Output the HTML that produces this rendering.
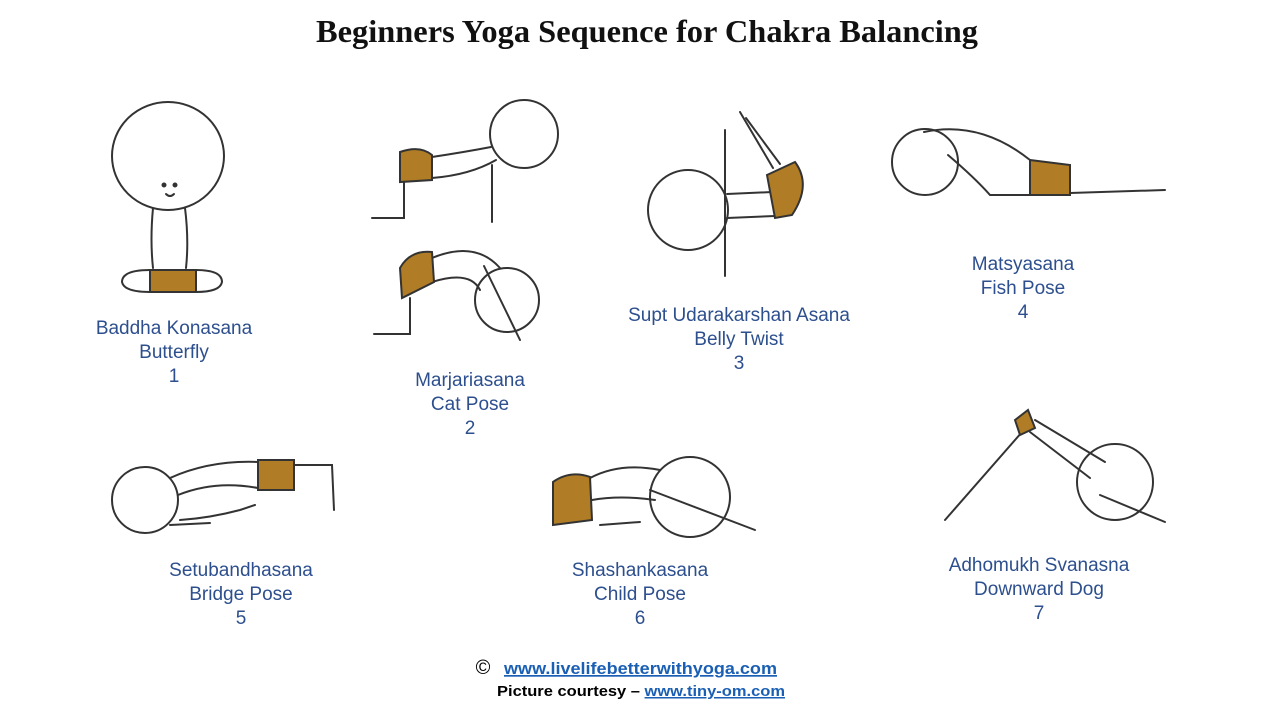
<!DOCTYPE html>
<html><head><meta charset="utf-8"><style>
body{margin:0;background:#fff;width:1280px;height:720px;overflow:hidden;font-family:"Liberation Sans",sans-serif}
</style></head><body>
<svg width="1280" height="720" xmlns="http://www.w3.org/2000/svg">
<text x="647" y="42" text-anchor="middle" font-family="Liberation Serif" font-weight="bold" font-size="32" fill="#111" textLength="662" lengthAdjust="spacingAndGlyphs">Beginners Yoga Sequence for Chakra Balancing</text>
<g fill="none" stroke="#333" stroke-width="2" stroke-linecap="round">
<!-- 1 -->
<ellipse cx="168" cy="156" rx="56" ry="54"/>
<path d="M153 208 Q150 240 153 268 M185 208 Q189 240 186 268"/>
<path d="M150 270 Q122 270 122 282 Q124 292 150 292 M196 270 Q222 270 222 282 Q220 292 196 292"/>
<rect x="150" y="270" width="46" height="22" fill="#b07d26" stroke="#333"/>
<circle cx="164" cy="185" r="1.5" fill="#333"/><circle cx="175" cy="185" r="1.5" fill="#333"/>
<path d="M166 194 Q170 198 174 194"/>
<!-- 2a -->
<circle cx="524" cy="134" r="34"/>
<path d="M432 157 Q465 152 491 147 M432 178 Q470 175 496 160"/>
<path d="M400 152 Q420 145 432 155 L432 180 L400 182 Z" fill="#b07d26"/>
<path d="M492 165 L492 222 M404 182 L404 218 L372 218"/>
<!-- 2b -->
<circle cx="507" cy="300" r="32"/>
<path d="M432 258 Q475 240 500 268 M432 282 Q470 270 480 290"/>
<path d="M400 268 Q410 250 432 252 L434 282 L402 298 Z" fill="#b07d26"/>
<path d="M410 298 L410 334 L374 334 M484 266 L520 340"/>
<!-- 3 -->
<circle cx="688" cy="210" r="40"/>
<path d="M725 130 L725 276"/>
<path d="M727 194 L772 192 M727 218 L775 216"/>
<path d="M767 175 L795 162 Q812 185 792 215 L775 218 Z" fill="#b07d26"/>
<path d="M773 168 L740 112 M780 164 L746 118"/>
<!-- 4 -->
<circle cx="925" cy="162" r="33"/>
<path d="M924 132 Q980 120 1030 160 M948 155 Q975 178 990 195 L1030 195"/>
<path d="M1030 160 L1070 165 L1070 195 L1030 195 Z" fill="#b07d26"/>
<path d="M1070 193 L1165 190"/>
<!-- 5 -->
<circle cx="145" cy="500" r="33"/>
<path d="M170 478 Q210 460 258 462 M178 495 Q215 480 258 488 M180 520 Q210 518 240 510 L255 505"/>
<rect x="258" y="460" width="36" height="30" fill="#b07d26"/>
<path d="M294 465 L332 465 L334 510 M170 525 L210 523"/>
<!-- 6 -->
<circle cx="690" cy="497" r="40"/>
<path d="M590 478 Q620 462 660 470 M592 500 Q620 495 655 500 M600 525 L640 522 M650 490 L755 530"/>
<path d="M553 482 Q570 470 590 477 L592 520 L553 525 Z" fill="#b07d26"/>
<!-- 7 -->
<circle cx="1115" cy="482" r="38"/>
<path d="M1022 432 L945 520 M1035 420 L1105 462 M1030 432 L1090 478 M1100 495 L1165 522"/>
<path d="M1015 420 L1028 410 L1035 428 L1020 435 Z" fill="#b07d26"/>
</g>
<g font-size="19" fill="#2d4f8e" text-anchor="middle">
<text x="174" y="334">Baddha Konasana</text><text x="174" y="358">Butterfly</text><text x="174" y="382">1</text>
<text x="470" y="386">Marjariasana</text><text x="470" y="410">Cat Pose</text><text x="470" y="434">2</text>
<text x="739" y="321">Supt Udarakarshan Asana</text><text x="739" y="345">Belly Twist</text><text x="739" y="369">3</text>
<text x="1023" y="270">Matsyasana</text><text x="1023" y="294">Fish Pose</text><text x="1023" y="318">4</text>
<text x="241" y="576">Setubandhasana</text><text x="241" y="600">Bridge Pose</text><text x="241" y="624">5</text>
<text x="640" y="576">Shashankasana</text><text x="640" y="600">Child Pose</text><text x="640" y="624">6</text>
<text x="1039" y="571">Adhomukh Svanasna</text><text x="1039" y="595">Downward Dog</text><text x="1039" y="619">7</text>
</g>
<text x="483" y="674" font-size="20" fill="#000" text-anchor="middle">©</text>
<text x="504" y="674" font-size="17" font-weight="bold" fill="#1a5fb4" text-decoration="underline" textLength="273" lengthAdjust="spacingAndGlyphs">www.livelifebetterwithyoga.com</text>
<text x="497" y="696" font-size="15" font-weight="bold" fill="#000" textLength="288" lengthAdjust="spacingAndGlyphs">Picture courtesy – <tspan fill="#1a5fb4" text-decoration="underline">www.tiny-om.com</tspan></text>
</svg>
</body></html>
